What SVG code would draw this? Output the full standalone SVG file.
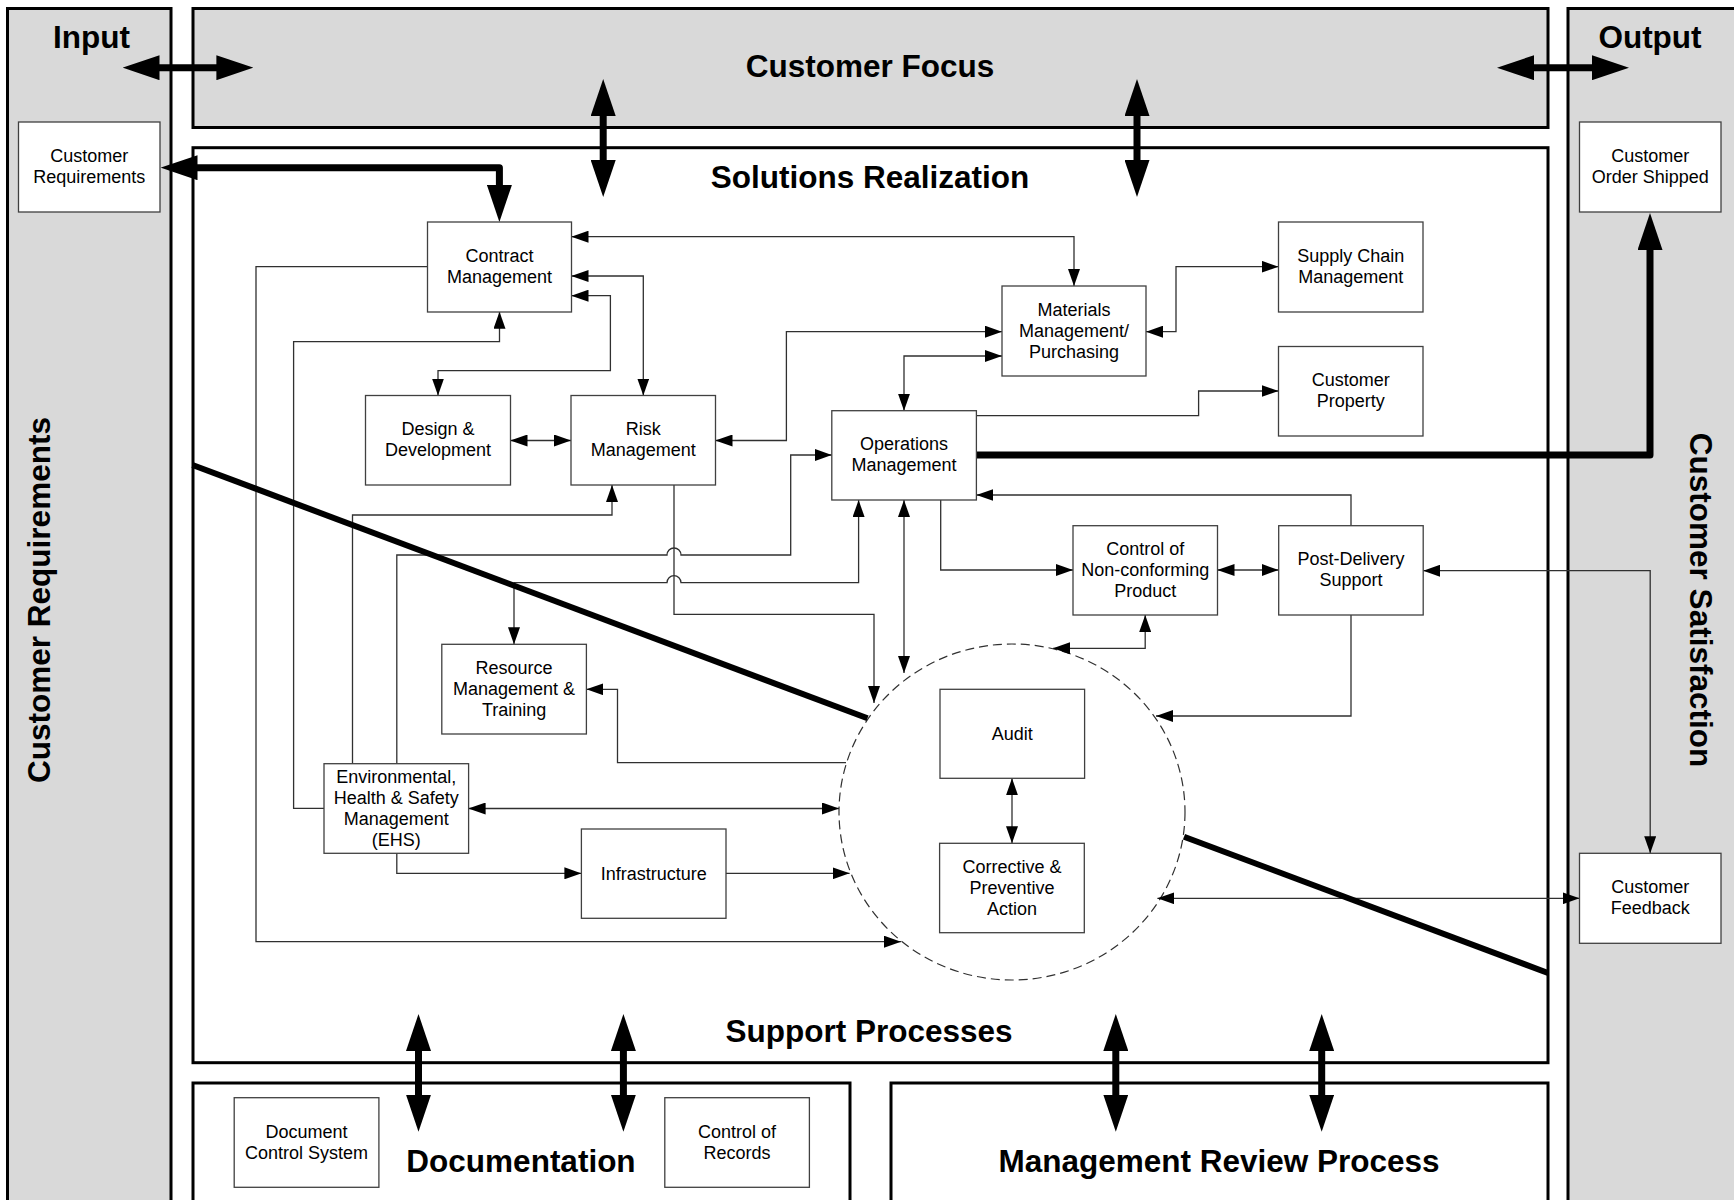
<svg xmlns="http://www.w3.org/2000/svg" width="1734" height="1200" viewBox="0 0 1734 1200">
<style>
.panel{fill:#d9d9d9;stroke:#000;stroke-width:3}
.wpanel{fill:#fff;stroke:#000;stroke-width:3}
.node rect{fill:#fff;stroke:#404040;stroke-width:1.3}
.t{font-family:"Liberation Sans",Arial,sans-serif;font-size:18px;text-anchor:middle;fill:#000}
.h{font-family:"Liberation Sans",Arial,sans-serif;font-size:31.5px;font-weight:bold;text-anchor:middle;fill:#000}
.c{fill:none;stroke:#303030;stroke-width:1.3}
.thick{fill:none;stroke:#000;stroke-width:7;stroke-linejoin:round}
</style>
<defs>
<marker id="a" markerUnits="userSpaceOnUse" viewBox="0 0 17 12" markerWidth="17" markerHeight="12" refX="17" refY="6" orient="auto-start-reverse"><path d="M0,0 L17,6 L0,12 z" fill="#000"/></marker>
<marker id="b" markerUnits="userSpaceOnUse" viewBox="0 0 37 25" markerWidth="37" markerHeight="25" refX="17" refY="12.5" orient="auto-start-reverse"><path d="M0,0 L37,12.5 L0,25 z" fill="#000"/></marker>
</defs>
<rect width="1734" height="1200" fill="#fff"/>
<g id="panels">
<rect class="panel" x="7.5" y="8.5" width="163.5" height="1205"/>
<rect class="panel" x="1568" y="8.5" width="175" height="1205"/>
<rect class="panel" x="193" y="8.5" width="1355" height="119"/>
<rect class="wpanel" x="193" y="147.7" width="1355" height="915"/>
<rect class="wpanel" x="193" y="1083" width="657" height="130"/>
<rect class="wpanel" x="891" y="1083" width="657" height="130"/>
<text class="h" x="91.5" y="48">Input</text>
<text class="h" x="1650" y="48">Output</text>
<text class="h" x="870" y="77">Customer Focus</text>
<text class="h" x="870" y="188">Solutions Realization</text>
<text class="h" x="869" y="1042">Support Processes</text>
<text class="h" x="521" y="1172">Documentation</text>
<text class="h" x="1219" y="1172">Management Review Process</text>
<text class="h" transform="translate(50,600) rotate(-90)">Customer Requirements</text>
<text class="h" transform="translate(1690,600) rotate(90)">Customer Satisfaction</text>
</g>
<g id="connectors">
<ellipse cx="1012" cy="812" rx="173" ry="168" fill="none" stroke="#303030" stroke-width="1.2" stroke-dasharray="9 5"/>
<g class="c">
<path d="M1074,286 V236.7 H571.5" marker-start="url(#a)" marker-end="url(#a)"/>
<path d="M571.5,276 H643.3 V395.5" marker-start="url(#a)" marker-end="url(#a)"/>
<path d="M571.5,295.7 H610.4 V370.7 H438 V395.5" marker-start="url(#a)" marker-end="url(#a)"/>
<path d="M510.5,440.5 H571" marker-start="url(#a)" marker-end="url(#a)"/>
<path d="M715.5,440.5 H786.4 V331.7 H1002" marker-start="url(#a)" marker-end="url(#a)"/>
<path d="M904,410.7 V356 H1002" marker-start="url(#a)" marker-end="url(#a)"/>
<path d="M1146,331.7 H1176 V266.7 H1278.5" marker-start="url(#a)" marker-end="url(#a)"/>
<path d="M976.4,415.7 H1198.6 V391 H1278.5" marker-end="url(#a)"/>
<path d="M1351,525.7 V495 H976.4" marker-end="url(#a)"/>
<path d="M940.7,500 V570 H1073" marker-end="url(#a)"/>
<path d="M1217.5,570 H1278.7" marker-start="url(#a)" marker-end="url(#a)"/>
<path d="M1145.2,615 V648.3 H1053" marker-start="url(#a)" marker-end="url(#a)"/>
<path d="M1351,615 V716 H1156" marker-end="url(#a)"/>
<path d="M1423.2,570.7 H1650.2 V853.3" marker-start="url(#a)" marker-end="url(#a)"/>
<path d="M1157.4,898.3 H1579.5" marker-start="url(#a)" marker-end="url(#a)"/>
<path d="M904,500 V673" marker-start="url(#a)" marker-end="url(#a)"/>
<path d="M674,485 V614.3 H874 V703" marker-end="url(#a)"/>
<path d="M858.6,500 V582.7 H681 A7,7 0 0 0 667,582.7 H514 V644.3" marker-start="url(#a)" marker-end="url(#a)"/>
<path d="M396.8,763.7 V555 H667 A7,7 0 0 1 681,555 H790.7 V455 H831.8" marker-end="url(#a)"/>
<path d="M352.5,763.7 V515 H612 V485" marker-end="url(#a)"/>
<path d="M324,808.3 H293.6 V341.7 H499.5 V311.7" marker-end="url(#a)"/>
<path d="M427.5,266.7 H256 V941.7 H901" marker-end="url(#a)"/>
<path d="M846,762.7 H617.5 V689.3 H586.4" marker-end="url(#a)"/>
<path d="M468.6,808.5 H839" marker-start="url(#a)" marker-end="url(#a)"/>
<path d="M396.8,853.3 V873.3 H581.4" marker-end="url(#a)"/>
<path d="M726,873.3 H849.6" marker-end="url(#a)"/>
<path d="M1012,778.3 V843.3" marker-start="url(#a)" marker-end="url(#a)"/>
</g>
<g fill="none" stroke="#000" stroke-width="6">
<line x1="192.5" y1="465" x2="867.5" y2="718.3"/>
<line x1="1184" y1="836.7" x2="1548" y2="973"/>
</g>
<g class="thick">
<path d="M180.5,167.7 H499.4 V202" marker-start="url(#b)" marker-end="url(#b)"/>
<path d="M976.4,455 H1650 V233" stroke-linecap="round" marker-end="url(#b)"/>
<path d="M142.5,67.7 H233.4" marker-start="url(#b)" marker-end="url(#b)"/>
<path d="M1517,67.7 H1609" marker-start="url(#b)" marker-end="url(#b)"/>
<path d="M603.2,99 V177" marker-start="url(#b)" marker-end="url(#b)"/>
<path d="M1137,99 V177" marker-start="url(#b)" marker-end="url(#b)"/>
<path d="M418.5,1034 V1111.7" marker-start="url(#b)" marker-end="url(#b)"/>
<path d="M623.4,1034 V1111.7" marker-start="url(#b)" marker-end="url(#b)"/>
<path d="M1115.8,1034 V1111.7" marker-start="url(#b)" marker-end="url(#b)"/>
<path d="M1321.7,1034 V1111.7" marker-start="url(#b)" marker-end="url(#b)"/>
</g>
</g>
<g id="n-custreq" class="node"><rect x="18.5" y="122" width="141.5" height="90"/><text class="t"><tspan x="89.25" y="162">Customer</tspan><tspan x="89.25" y="183">Requirements</tspan></text></g>
<g id="n-ordershipped" class="node"><rect x="1579.5" y="122" width="141.5" height="90"/><text class="t"><tspan x="1650.25" y="162">Customer</tspan><tspan x="1650.25" y="183">Order Shipped</tspan></text></g>
<g id="n-feedback" class="node"><rect x="1579.5" y="853.3" width="141.5" height="90"/><text class="t"><tspan x="1650.25" y="893.3">Customer</tspan><tspan x="1650.25" y="914.3">Feedback</tspan></text></g>
<g id="n-contract" class="node"><rect x="427.5" y="222" width="144" height="90"/><text class="t"><tspan x="499.5" y="262">Contract</tspan><tspan x="499.5" y="283">Management</tspan></text></g>
<g id="n-supply" class="node"><rect x="1278.5" y="222" width="144.5" height="90"/><text class="t"><tspan x="1350.75" y="262">Supply Chain</tspan><tspan x="1350.75" y="283">Management</tspan></text></g>
<g id="n-materials" class="node"><rect x="1002" y="286" width="144" height="90"/><text class="t"><tspan x="1074" y="315.5">Materials</tspan><tspan x="1074" y="336.5">Management/</tspan><tspan x="1074" y="357.5">Purchasing</tspan></text></g>
<g id="n-property" class="node"><rect x="1278.5" y="346.5" width="144.5" height="89.5"/><text class="t"><tspan x="1350.75" y="386.25">Customer</tspan><tspan x="1350.75" y="407.25">Property</tspan></text></g>
<g id="n-design" class="node"><rect x="365.5" y="395.5" width="145" height="89.5"/><text class="t"><tspan x="438" y="435.25">Design &amp;</tspan><tspan x="438" y="456.25">Development</tspan></text></g>
<g id="n-risk" class="node"><rect x="571" y="395.5" width="144.5" height="89.5"/><text class="t"><tspan x="643.25" y="435.25">Risk</tspan><tspan x="643.25" y="456.25">Management</tspan></text></g>
<g id="n-operations" class="node"><rect x="831.8" y="410.7" width="144.6" height="89.3"/><text class="t"><tspan x="904.1" y="450.35">Operations</tspan><tspan x="904.1" y="471.35">Management</tspan></text></g>
<g id="n-nonconforming" class="node"><rect x="1073" y="525.7" width="144.5" height="89.3"/><text class="t"><tspan x="1145.25" y="554.85">Control of</tspan><tspan x="1145.25" y="575.85">Non-conforming</tspan><tspan x="1145.25" y="596.85">Product</tspan></text></g>
<g id="n-postdelivery" class="node"><rect x="1278.7" y="525.7" width="144.5" height="89.3"/><text class="t"><tspan x="1350.95" y="565.35">Post-Delivery</tspan><tspan x="1350.95" y="586.35">Support</tspan></text></g>
<g id="n-resource" class="node"><rect x="441.8" y="644.3" width="144.6" height="89.7"/><text class="t"><tspan x="514.1" y="673.65">Resource</tspan><tspan x="514.1" y="694.65">Management &amp;</tspan><tspan x="514.1" y="715.65">Training</tspan></text></g>
<g id="n-audit" class="node"><rect x="940" y="689.3" width="144.6" height="89"/><text class="t" x="1012.3" y="740.3">Audit</text></g>
<g id="n-ehs" class="node"><rect x="324" y="763.7" width="144.6" height="89.6"/><text class="t"><tspan x="396.3" y="782.5">Environmental,</tspan><tspan x="396.3" y="803.5">Health &amp; Safety</tspan><tspan x="396.3" y="824.5">Management</tspan><tspan x="396.3" y="845.5">(EHS)</tspan></text></g>
<g id="n-infrastructure" class="node"><rect x="581.4" y="829" width="144.6" height="89.3"/><text class="t" x="653.7" y="880.15">Infrastructure</text></g>
<g id="n-corrective" class="node"><rect x="939.6" y="843.3" width="144.7" height="89.4"/><text class="t"><tspan x="1011.95" y="872.5">Corrective &amp;</tspan><tspan x="1011.95" y="893.5">Preventive</tspan><tspan x="1011.95" y="914.5">Action</tspan></text></g>
<g id="n-doccontrol" class="node"><rect x="234.2" y="1097.7" width="144.7" height="89.6"/><text class="t"><tspan x="306.55" y="1137.5">Document</tspan><tspan x="306.55" y="1158.5">Control System</tspan></text></g>
<g id="n-records" class="node"><rect x="664.8" y="1097.7" width="144.6" height="89.6"/><text class="t"><tspan x="737.1" y="1137.5">Control of</tspan><tspan x="737.1" y="1158.5">Records</tspan></text></g>
</svg>
